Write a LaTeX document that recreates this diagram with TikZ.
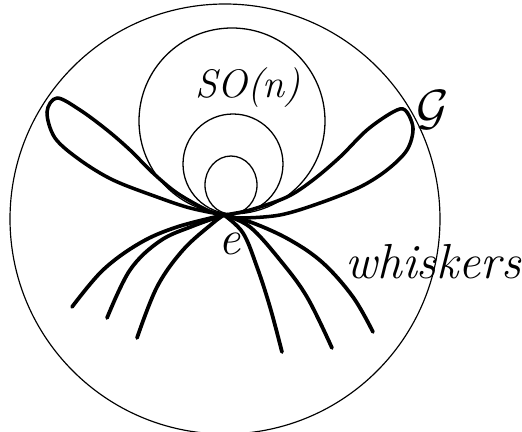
\documentclass[tikz,border=0pt]{standalone}
\usepackage{fontspec}
\usepackage{amsmath}
\usepackage{amssymb}
\usetikzlibrary{
  calc,
  positioning
}
\tikzset{
  groupline/.style={draw, line width=1pt},
  subline/.style={draw, line width=1.1pt},
  loopline/.style={draw, line width=3pt, line join=round, line cap=round},
  whisker/.style={draw, line width=3.2pt, line cap=round},
  handlabel/.style={font=\fontsize{34}{34}\selectfont\itshape, inner sep=0pt},
  biglabel/.style={font=\fontsize{42}{42}\selectfont\itshape, inner sep=0pt},
  grplabel/.style={font=\Huge, scale=1.7, inner sep=0pt}
}

\begin{document}
\begin{tikzpicture}[x=0.03cm, y=-0.03cm]
  \useasboundingbox (0,0) rectangle (522,432);
  \coordinate (e) at (224,215);

  % the whole group and the circles through e
  \draw[groupline] (225,219) circle (215);
  \draw[subline] (232,121) circle (93);
  \draw[subline] (233,164) circle (50);
  \draw[subline] (231,185) ellipse (26 and 29);

  % the two loops
  \draw[loopline] plot[smooth, tension=0.55] coordinates {(e) (207,210) (177,193) (153,173) (130,150)
    (107,130) (80,110) (57,98) (47,112) (55,138) (80,160) (113,180) (157,197) (190,208) (e)};
  \draw[loopline] plot[smooth, tension=0.55] coordinates {(e) (250,210) (287,197) (313,180) (340,157)
    (367,130) (393,112) (405,110) (413,128) (407,150) (387,170) (360,187) (320,203) (280,215) (240,218) (e)};

  % whiskers
  \draw[whisker] plot[smooth, tension=0.6] coordinates {(e) (177,227) (140,243) (103,270) (72,307)};
  \draw[whisker] plot[smooth, tension=0.6] coordinates {(e) (193,226) (160,241) (130,270) (107,318)};
  \draw[whisker] plot[smooth, tension=0.6] coordinates {(e) (213,223) (183,250) (157,287) (137,338)};
  \draw[whisker] plot[smooth, tension=0.6] coordinates {(e) (243,233) (257,267) (270,307) (282,352)};
  \draw[whisker] plot[smooth, tension=0.6] coordinates {(e) (250,227) (280,260) (307,297) (332,348)};
  \draw[whisker] plot[smooth, tension=0.6] coordinates {(e) (253,223) (290,240) (323,263) (353,297) (373,332)};

  % labels
  \node[handlabel] (son) at (248,88) {SO(n)};
  \node[grplabel] (grp) at (433,110) {$\mathcal{G}$};
  \node[biglabel, anchor=base] (idn) at (230,255) {e};
  \node[biglabel, anchor=base east] (whs) at (521,279) {whiskers};
\end{tikzpicture}
\end{document}
